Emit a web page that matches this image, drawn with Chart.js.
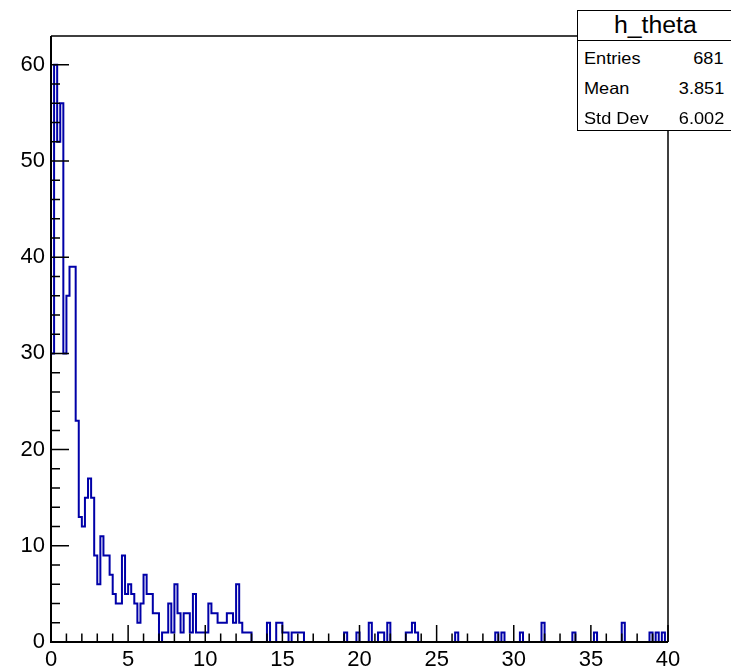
<!DOCTYPE html>
<html>
<head>
<meta charset="utf-8">
<script src="https://cdn.jsdelivr.net/npm/chart.js@4.4.1/dist/chart.umd.min.js"></script>
<style>
html,body{margin:0;padding:0;background:#fff;}
#wrap{position:relative;width:731px;height:672px;overflow:hidden;background:#fff;}
#c{position:absolute;left:0;top:0;}
#stats{position:absolute;left:577px;top:10px;width:170px;height:121px;border:1.5px solid #000;background:#fff;box-sizing:border-box;font-family:'Liberation Sans',Arial,Helvetica,sans-serif;color:#000;}
#stats .title{position:absolute;left:0;top:0;width:154px;height:29px;border-bottom:1.5px solid #000;text-align:center;font-size:23px;line-height:29px;}
#stats .title span{display:inline-block;transform:scaleX(1.08);transform-origin:center;}
#stats .row{position:absolute;left:0;width:154px;height:30px;font-size:16.5px;line-height:30px;}
#stats .k{position:absolute;left:6px;top:0;display:inline-block;transform:scaleX(1.1);transform-origin:left center;}
#stats .v{position:absolute;right:8px;top:0;display:inline-block;transform:scaleX(1.1);transform-origin:right center;}
</style>
</head>
<body>
<div id="wrap">
<canvas id="c" width="731" height="672" style="width:731px;height:672px"></canvas>
<div id="stats"></div>
</div>
<script>
// ---- data ----
const xRange = [0, 40];
const yRange = [0, 63];
const binWidth = 0.2;
const counts = [
  30,60,52,56,30,36,39,39,23,13,   // 0.0 - 2.0
  12,15,17,15,9,6,11,9,9,7,        // 2.0 - 4.0
  5,4,4,9,5,6,5,4,2,4,             // 4.0 - 6.0
  7,5,5,3,3,0,1,1,4,1,             // 6.0 - 8.0
  6,3,1,3,3,1,5,1,1,1,             // 8.0 - 10.0
  1,4,3,3,2,2,2,3,3,2,             // 10.0 - 12.0
  6,2,1,1,1,0,0,0,0,0,             // 12.0 - 14.0
  2,0,0,2,2,1,1,0,1,1,             // 14.0 - 16.0
  1,1,0,0,0,0,0,0,0,0,             // 16.0 - 18.0
  0,0,0,0,0,1,0,0,0,1,             // 18.0 - 20.0
  0,0,0,2,0,0,1,1,0,2,             // 20.0 - 22.0
  0,0,0,0,0,1,1,2,1,0,             // 22.0 - 24.0
  0,0,0,0,0,0,0,0,0,0,             // 24.0 - 26.0
  0,1,0,0,0,0,0,0,0,0,             // 26.0 - 28.0
  0,0,0,0,1,0,1,0,0,0,             // 28.0 - 30.0
  0,0,1,0,0,0,0,0,0,2,             // 30.0 - 32.0
  0,0,0,0,0,0,0,0,0,1,             // 32.0 - 34.0
  0,0,0,0,0,0,1,0,0,0,             // 34.0 - 36.0
  0,0,0,0,0,2,0,0,0,0,             // 36.0 - 38.0
  0,0,0,0,1,0,1,0,1,0              // 38.0 - 40.0
];
const xTickValues = [0,5,10,15,20,25,30,35,40];
const yTickValues = [0,10,20,30,40,50,60];
const statsTitle = 'h_theta';
const statsNames = ['Entries','Mean','Std Dev'];
const statsValues = ['681','3.851','6.002'];

// ---- stats box ----
const sb = document.getElementById('stats');
let html = '<div class="title"><span>'+statsTitle+'</span></div>';
statsNames.forEach((n,i)=>{
  html += '<div class="row" style="top:'+(32+i*30)+'px"><span class="k">'+n+'</span><span class="v">'+statsValues[i]+'</span></div>';
});
sb.innerHTML = html;

// ---- histogram outline points (bin edges) ----
const pts = [{x:xRange[0], y:0}];
counts.forEach((c,i)=>pts.push({x:xRange[0]+i*binWidth, y:c}));
pts.push({x:xRange[0]+counts.length*binWidth, y:counts[counts.length-1]});
pts.push({x:xRange[0]+counts.length*binWidth, y:0});

const framePlugin = {
  id:'rootFrame',
  afterDraw(chart){
    const ctx = chart.ctx;
    const {left,right,top,bottom} = chart.chartArea;
    const xs = chart.scales.x, ys = chart.scales.y;
    ctx.save();
    ctx.strokeStyle = '#000';
    ctx.lineWidth = 1.5;
    ctx.beginPath();
    xs.ticks.forEach(t=>{
      const px = xs.getPixelForValue(t.value);
      const len = (t.value % 5 === 0) ? 17 : 8.5;
      ctx.moveTo(px, bottom); ctx.lineTo(px, bottom-len);
    });
    ys.ticks.forEach(t=>{
      if (t.value % 2 !== 0) return;
      const py = ys.getPixelForValue(t.value);
      const len = (t.value % 10 === 0) ? 18 : 9;
      ctx.moveTo(left, py); ctx.lineTo(left+len, py);
    });
    ctx.stroke();
    ctx.lineWidth = 1.5;
    ctx.beginPath();
    ctx.moveTo(left, top); ctx.lineTo(right, top); ctx.lineTo(right, bottom);
    ctx.stroke();
    ctx.lineWidth = 2;
    ctx.beginPath();
    ctx.moveTo(left, top); ctx.lineTo(left, bottom); ctx.lineTo(right, bottom);
    ctx.stroke();
    ctx.restore();
  }
};

const tickFont = {family:"'Liberation Sans', Arial, Helvetica, sans-serif", size:22};

new Chart(document.getElementById('c'), {
  type:'line',
  data:{datasets:[{
    data:pts, stepped:'before', borderColor:'#0000a8', borderWidth:2,
    pointRadius:0, fill:false, tension:0
  }]},
  options:{
    responsive:false, animation:false, devicePixelRatio:1,
    layout:{padding:{left:0,right:63,top:36,bottom:0}},
    plugins:{legend:{display:false},tooltip:{enabled:false},title:{display:false}},
    scales:{
      x:{type:'linear', min:xRange[0], max:xRange[1],
         afterFit(s){ s.height = 30; },
         grid:{display:false, drawTicks:false}, border:{display:false},
         ticks:{stepSize:1, autoSkip:false, maxRotation:0, padding:5, color:'#000', font:tickFont,
                callback:v=> xTickValues.includes(v) ? String(v) : ''}},
      y:{min:yRange[0], max:yRange[1],
         afterFit(s){ s.width = 51; },
         grid:{display:false, drawTicks:false}, border:{display:false},
         ticks:{stepSize:2, autoSkip:false, padding:6, color:'#000', font:tickFont,
                callback:v=> yTickValues.includes(v) ? String(v) : ''}}
    }
  },
  plugins:[framePlugin]
});
</script>
</body>
</html>
